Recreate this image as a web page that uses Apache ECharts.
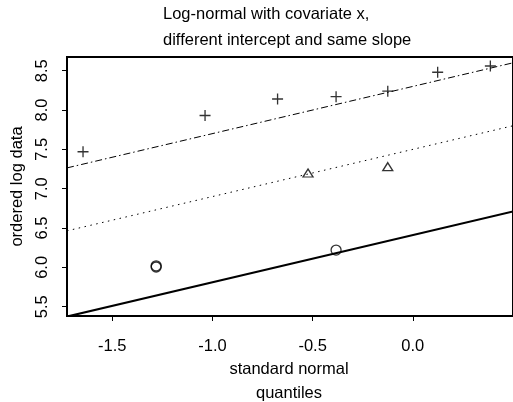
<!DOCTYPE html>
<html>
<head>
<meta charset="utf-8">
<script src="https://cdn.jsdelivr.net/npm/echarts@6/dist/echarts.min.js"></script>
<style>
    html, body { margin: 0; padding: 0; background: #fff; }
    #qqChart { width: 513px; height: 402px; }
</style>
</head>
<body>
<div id="qqChart"></div>
<script>
// ordered log data vs standard normal quantiles, three groups
var plusX = [-1.646, -1.037, -0.675, -0.383, -0.125, 0.124, 0.387];
var plusY = [7.47, 7.93, 8.14, 8.17, 8.24, 8.48, 8.56];
var triX = [-0.523, -0.125];
var triY = [7.20, 7.28];
var circX = [-1.281, -1.281, -0.383];
var circY = [6.005, 6.02, 6.22];

// fitted lines: same slope, different intercepts
var lineNames = ['group 1', 'group 2', 'group 3'];
var intercepts = [8.30, 7.50, 6.41];
var slope = 0.60;

var xTicks = [-1.5, -1.0, -0.5, 0.0];
var yTicks = [5.5, 6.0, 6.5, 7.0, 7.5, 8.0, 8.5];
var xMin = -1.726, xMax = 0.5;
var yMin = 5.382, yMax = 8.674;

var font = 'Liberation Sans, Arial, Helvetica, sans-serif';
var fontSize = 16.5;
var qqChart = echarts.init(document.getElementById('qqChart'));

function pairs(xs, ys) {
    var out = [];
    xs.forEach(function (x, i) {
        out.push([x, ys[i]]);
    });
    return out;
}

var option = {
    animation: false,
    backgroundColor: '#fff',
    title: [
        {
            text: 'Log-normal with covariate x,\ndifferent intercept and same slope',
            left: 163,
            top: 1,
            padding: 0,
            textStyle: { fontFamily: font, fontSize: fontSize, fontWeight: 'normal', color: '#000', lineHeight: 26 }
        },
        {
            text: 'standard normal\nquantiles',
            left: 289,
            top: 357,
            padding: 0,
            textAlign: 'center',
            textStyle: { fontFamily: font, fontSize: fontSize, fontWeight: 'normal', color: '#000', lineHeight: 24 }
        }
    ],
    grid: {
        left: 67,
        right: -11,
        top: 57,
        bottom: 86,
        show: true,
        borderColor: '#000',
        borderWidth: 2
    },
    xAxis: {
        type: 'value',
        min: xMin,
        max: xMax,
        splitLine: { show: false },
        axisLine: { show: true, onZero: false, lineStyle: { color: '#000', width: 2 } },
        axisTick: { show: true, length: 5, customValues: xTicks, lineStyle: { color: '#000', width: 1 } },
        axisLabel: {
            customValues: xTicks,
            margin: 22,
            color: '#000',
            fontFamily: font,
            fontSize: fontSize,
            formatter: function (v) { return v.toFixed(1); }
        }
    },
    yAxis: {
        type: 'value',
        min: yMin,
        max: yMax,
        name: 'ordered log data',
        nameLocation: 'middle',
        nameRotate: 90,
        nameGap: 37,
        nameTextStyle: { fontFamily: font, fontSize: fontSize, color: '#000' },
        splitLine: { show: false },
        axisLine: { show: true, onZero: false, lineStyle: { color: '#000', width: 2 } },
        axisTick: { show: true, length: 5, customValues: yTicks, lineStyle: { color: '#000', width: 1 } },
        axisLabel: {
            customValues: yTicks,
            rotate: 90,
            margin: 16,
            color: '#000',
            fontFamily: font,
            fontSize: fontSize,
            formatter: function (v) { return v.toFixed(1); }
        }
    },
    series: []
};

var lineStyles = [
    { color: '#000', width: 1, type: [7, 3, 1.5, 3] },
    { color: '#000', width: 1, type: [1.5, 4.5] },
    { color: '#000', width: 2, type: 'solid' }
];
intercepts.forEach(function (a, i) {
    option.series.push({
        name: lineNames[i],
        type: 'line',
        symbol: 'none',
        silent: true,
        lineStyle: lineStyles[i],
        data: [[xMin, a + slope * xMin], [xMax, a + slope * xMax]]
    });
});

option.series.push({
    type: 'scatter',
    symbol: 'path://M4.4,0H5.6V4.4H10V5.6H5.6V10H4.4V5.6H0V4.4H4.4Z',
    symbolSize: 11,
    itemStyle: { color: '#000' },
    data: pairs(plusX, plusY)
});
option.series.push({
    type: 'scatter',
    symbol: 'triangle',
    symbolSize: [10, 8],
    itemStyle: { color: '#fff', borderColor: '#000', borderWidth: 1.3 },
    data: pairs(triX, triY)
});
option.series.push({
    type: 'scatter',
    symbol: 'circle',
    symbolSize: 10,
    itemStyle: { color: 'rgba(0,0,0,0)', borderColor: '#000', borderWidth: 1.3 },
    data: pairs(circX, circY)
});

qqChart.setOption(option);
</script>
</body>
</html>
